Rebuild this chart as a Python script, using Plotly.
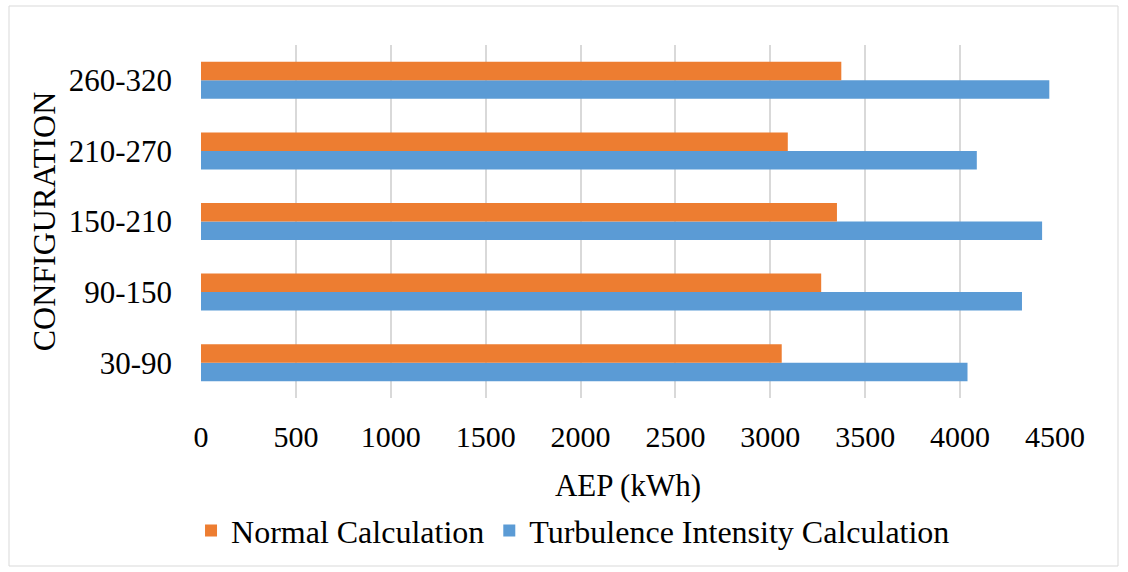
import plotly.graph_objects as go

# Annual energy production per yaw-sector configuration
configurations = ["30-90", "90-150", "150-210", "210-270", "260-320"]
normal_calc = [3060, 3268, 3351, 3092, 3374]
turbulence_calc = [4039, 4326, 4432, 4088, 4470]

x_ticks = [0, 500, 1000, 1500, 2000, 2500, 3000, 3500, 4000, 4500]

ORANGE = "#ED7D31"
BLUE = "#5B9BD5"
FONT = "Liberation Serif"
BLACK = "#000000"

W, H = 1128, 572
ML, MR, MT, MB = 201, 73, 45, 174

fig = go.Figure()
# Blue trace first so that the orange bar sits above it within each group
fig.add_trace(go.Bar(
    y=configurations, x=turbulence_calc, orientation="h",
    name="Turbulence Intensity Calculation",
    marker=dict(color=BLUE, line=dict(width=0)),
    legendrank=2,
))
fig.add_trace(go.Bar(
    y=configurations, x=normal_calc, orientation="h",
    name="Normal Calculation",
    marker=dict(color=ORANGE, line=dict(width=0)),
    legendrank=1,
))

# Light grey frame around the whole chart
pw, ph = W - ML - MR, H - MT - MB
fx0, fx1 = 9, 1118
fy0, fy1 = 6, 566
fig.add_shape(
    type="rect", xref="paper", yref="paper",
    x0=(fx0 - ML) / pw, x1=(fx1 - ML) / pw,
    y0=1 - (fy1 - MT) / ph, y1=1 - (fy0 - MT) / ph,
    line=dict(color="#d9d9d9", width=1), fillcolor="rgba(0,0,0,0)",
    layer="below",
)

fig.update_layout(
    width=W, height=H,
    margin=dict(l=ML, r=MR, t=MT, b=MB, pad=0, autoexpand=False),
    paper_bgcolor="white", plot_bgcolor="white",
    barmode="group", bargap=0.476, bargroupgap=0,
    font=dict(family=FONT, size=31, color=BLACK),
    showlegend=True,
    legend=dict(
        orientation="h", xref="container", yref="container",
        x=0.508, xanchor="center", y=0.072, yanchor="middle",
        font=dict(family=FONT, size=32, color=BLACK),
        itemwidth=30,
    ),
    xaxis=dict(
        range=[0, 4500], tickvals=x_ticks,
        ticktext=[str(v) for v in x_ticks],
        showgrid=True, gridcolor="#d9d9d9", gridwidth=2,
        zeroline=False, showline=False,
        ticks="", ticklabelstandoff=18,
        tickfont=dict(family=FONT, size=30, color=BLACK),
        title=dict(text="AEP (kWh)", standoff=23,
                   font=dict(family=FONT, size=31, color=BLACK)),
    ),
    yaxis=dict(
        categoryorder="array", categoryarray=configurations,
        showgrid=False, zeroline=False, showline=False,
        ticks="", ticklabelstandoff=28,
        tickfont=dict(family=FONT, size=31, color=BLACK),
        title=dict(text="CONFIGURATION", standoff=3,
                   font=dict(family=FONT, size=32, color=BLACK)),
    ),
)

fig.write_html("out.html")
